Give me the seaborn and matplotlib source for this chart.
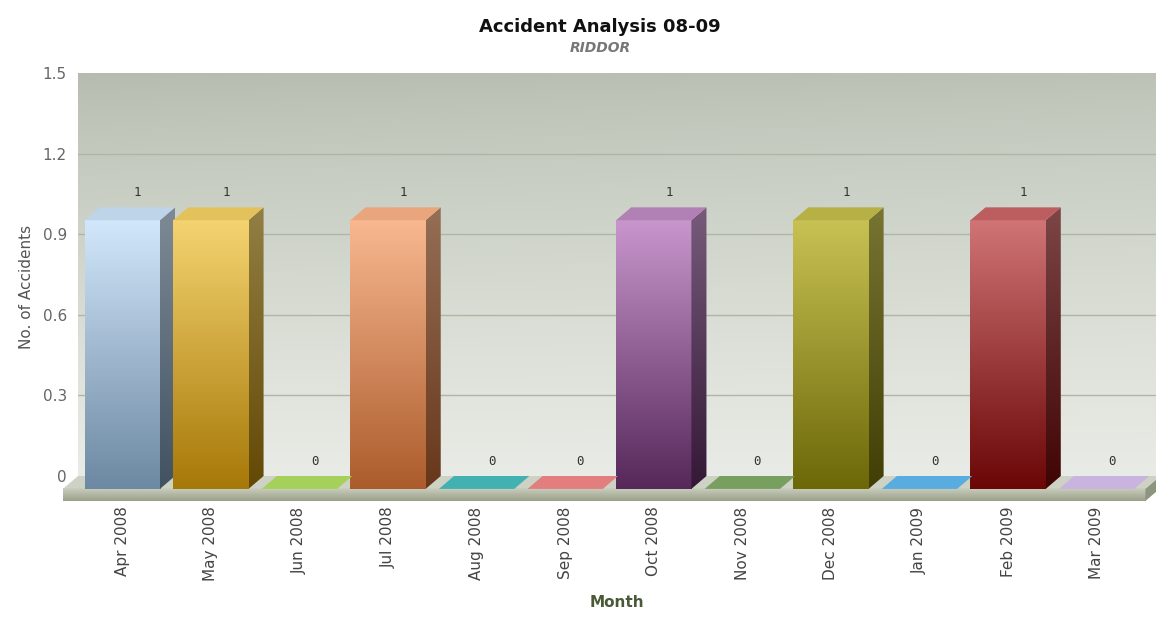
import numpy as np
import pandas as pd
import matplotlib
matplotlib.use('Agg')
import matplotlib.pyplot as plt
import matplotlib.colors as mcolors
from matplotlib.patches import Polygon, Rectangle
import seaborn as sns

# Chart data
months = ['Apr 2008', 'May 2008', 'Jun 2008', 'Jul 2008', 'Aug 2008', 'Sep 2008',
          'Oct 2008', 'Nov 2008', 'Dec 2008', 'Jan 2009', 'Feb 2009', 'Mar 2009']
accidents = [1, 1, 0, 1, 0, 0, 1, 0, 1, 0, 1, 0]
y_ticks = [0, 0.3, 0.6, 0.9, 1.2, 1.5]

# light (top of bar) / dark (bottom of bar) colour of each bar
top_colors = ['#d2e7fb', '#f4d470', '#a8d84a', '#f8b890', '#2cb6b6', '#ea7c7c',
              '#c896cc', '#6e9c50', '#c8c254', '#4cb0ec', '#d07476', '#cdb6e2']
bottom_colors = ['#6c88a2', '#a67808', '#78b028', '#ac5c2c', '#108888', '#c84848',
                 '#56285a', '#4a7a30', '#6c6808', '#2080c0', '#6a0606', '#a890c8']

df = pd.DataFrame({'Month': months, 'Accidents': accidents})

dx = 0.17     # depth offset of the fake 3d, in x data units
dy = 0.048    # depth offset in y data units
floor_h = 0.045

sns.set_style('white')
fig = plt.figure(figsize=(11.56, 6.17), dpi=100)
ax = fig.add_axes([78 / 1156, 116 / 617, 1 - 78 / 1156, (501 - 73) / 617])
ax.set_facecolor('none')

ax = sns.barplot(data=df, x='Month', y='Accidents', hue='Month', palette=top_colors,
                 width=0.85, legend=False, ax=ax, zorder=3, saturation=1)
bars = sorted([p for p in ax.patches if isinstance(p, Rectangle)], key=lambda p: p.get_x())

xmin, xmax = -0.5, 11.67
ymin, ymax = -dy - floor_h, 1.5

# background gradient (darker grey-green at top, lighter near the floor)
rows = np.linspace(0, 1, 256)[:, None]
cols = np.linspace(0, 1, 64)[None, :]
bg_top = np.array(mcolors.to_rgb('#b5bcae'))
bg_bot = np.array(mcolors.to_rgb('#e9ece6'))
t = rows ** 0.8 * np.ones_like(cols)
t = np.clip(t + 0.12 * cols * (1 - rows), 0, 1)
bg = bg_top[None, None, :] * (1 - t[..., None]) + bg_bot[None, None, :] * t[..., None]
ax.imshow(bg, extent=(xmin, xmax, 0, ymax), origin='upper', aspect='auto', zorder=0)

for g in y_ticks[1:-1]:
    ax.plot([xmin, xmax], [g, g], color='#b0b5a6', lw=1, zorder=1)

# floor slab
x0f, x1f = xmin - dx, 11.55
ax.add_patch(Polygon([(x0f, -dy), (x1f, -dy), (x1f + dx, 0), (x0f + dx, 0)],
                     closed=True, fc='#cdd2c4', ec='none', zorder=2, clip_on=False))
front = Polygon([(x0f, -dy - floor_h), (x1f, -dy - floor_h), (x1f, -dy), (x0f, -dy)],
                closed=True, fc='none', ec='none', zorder=2, clip_on=False)
ax.add_patch(front)
fl_top = np.array(mcolors.to_rgb('#c9cebd'))
fl_bot = np.array(mcolors.to_rgb('#9aa08a'))
fgrad = fl_top[None, None, :] * (1 - rows[..., None]) + fl_bot[None, None, :] * rows[..., None]
fim = ax.imshow(np.repeat(fgrad, 4, axis=1), extent=(x0f, x1f, -dy - floor_h, -dy),
                origin='upper', aspect='auto', zorder=2)
fim.set_clip_on(False)
ax.add_patch(Polygon([(x1f, -dy - floor_h), (x1f + dx, -floor_h), (x1f + dx, 0), (x1f, -dy)],
                     closed=True, fc='#8e957f', ec='none', zorder=2, clip_on=False))

# turn flat seaborn bars into gradient 3d boxes
for i, patch in enumerate(bars):
    x = patch.get_x()
    w = patch.get_width()
    h = patch.get_height()
    patch.set_y(-dy)
    patch.set_edgecolor('none')
    c_top = np.array(mcolors.to_rgb(top_colors[i]))
    c_bot = np.array(mcolors.to_rgb(bottom_colors[i]))
    if h > 0:
        grad = c_top[None, None, :] * (1 - rows[..., None]) + c_bot[None, None, :] * rows[..., None]
        grad = np.repeat(grad, 4, axis=1)
        im = ax.imshow(grad, extent=(x, x + w, -dy, h - dy), origin='upper',
                       aspect='auto', zorder=3)
        im.set_clip_path(patch)
        side = grad * 0.6
        im2 = ax.imshow(side, extent=(x + w, x + w + dx, -dy, h), origin='upper',
                        aspect='auto', zorder=3)
        sp = Polygon([(x + w, -dy), (x + w + dx, 0), (x + w + dx, h), (x + w, h - dy)],
                     closed=True, fc='none', ec='none', transform=ax.transData)
        ax.add_patch(sp)
        im2.set_clip_path(sp)
        top_face = c_top * 0.8 + c_bot * 0.2
    else:
        top_face = (c_top * 0.6 + c_bot * 0.4) * 0.85 + 0.15
    ax.add_patch(Polygon([(x, h - dy), (x + w, h - dy), (x + w + dx, h), (x + dx, h)],
                         closed=True, fc=top_face, ec='none', zorder=4))
    ax.text(x + w / 2 + dx, h + 0.03, str(accidents[i]), ha='center', va='bottom',
            fontsize=9, family='DejaVu Sans Mono', color='#333333', zorder=5)

ax.set_xlim(xmin, xmax)
ax.set_ylim(ymin, ymax)
ax.set_yticks(y_ticks)
ax.set_yticklabels(['0', '0.3', '0.6', '0.9', '1.2', '1.5'])
ax.tick_params(axis='y', length=0, pad=8, labelsize=11, labelcolor='#666666')
ax.tick_params(axis='x', length=0, pad=4, labelsize=11, labelcolor='#444444', rotation=90)
for s in ax.spines.values():
    s.set_visible(False)

ax.set_ylabel('No. of Accidents', fontsize=11, color='#555555', labelpad=6)
ax.set_xlabel('Month', fontsize=11, fontweight='bold', color='#4a5a36', labelpad=10)

fig.text(0.519, 0.957, 'Accident Analysis 08-09', ha='center', va='center',
         fontsize=13, fontweight='bold', color='#111111')
fig.text(0.519, 0.922, 'RIDDOR', ha='center', va='center', fontsize=10,
         fontweight='bold', fontstyle='italic', color='#777777')

fig.savefig('out.png', dpi=100)
